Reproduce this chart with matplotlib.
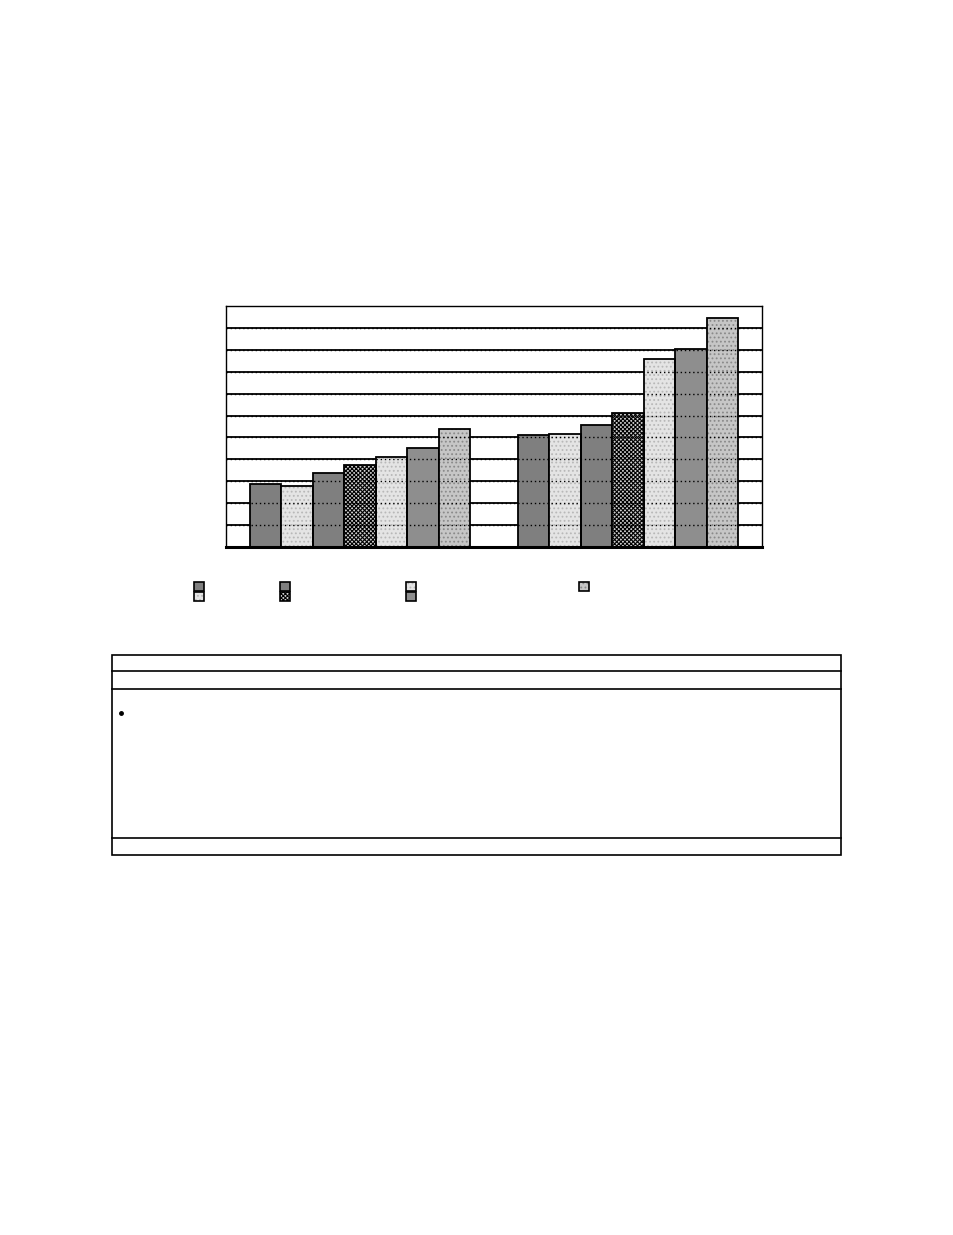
import numpy as np
import matplotlib
matplotlib.use("Agg")
import matplotlib.pyplot as plt
from matplotlib.patches import Rectangle

# two category groups, seven series each (no text in the source)
groups = ["", ""]
series_a = [2.89, 2.80, 3.39, 3.76, 4.13, 4.54, 5.37]
series_b = [5.09, 5.18, 5.55, 6.10, 8.58, 9.04, 10.46]
values = np.array([series_a, series_b])  # shape (2 groups, 7 series)

face = ["#7f7f7f", "#e4e4e4", "#7f7f7f", "#d0d0d0", "#e4e4e4", "#8e8e8e", "#c6c6c6"]
hatch = [None, "....", None, "xxxxxxxx", "....", None, "...."]
hcol = [None, "#b8b8b8", None, "black", "#b8b8b8", None, "#8a8a8a"]

plt.rcParams["hatch.linewidth"] = 0.8

fig = plt.figure(figsize=(9.54, 12.35), dpi=100)
W, H = 954, 1235

ax = fig.add_axes([226 / W, 1 - 547 / H, 536 / W, 241 / H])
n = values.shape[1]
w = 1.0 / (n + 1.5)
centers = np.arange(len(groups)) + 0.5

for gy in range(1, 11):
    ax.axhline(gy, color="black", lw=1.3, zorder=1)
    # grid shows faintly through the patterned bars
    ax.axhline(gy, color="black", lw=1.0, ls=(0, (1, 2)), zorder=2.5)

for i in range(n):
    xs = centers + (i - (n - 1) / 2) * w
    if hatch[i]:
        ax.bar(xs, values[:, i], w, color=face[i], hatch=hatch[i],
               edgecolor=hcol[i], linewidth=0, zorder=2)
        ax.bar(xs, values[:, i], w, fill=False, edgecolor="black", linewidth=1.3, zorder=3)
    else:
        ax.bar(xs, values[:, i], w, color=face[i], edgecolor="black", linewidth=1.3, zorder=2)

ax.set_xlim(0, 2)
ax.set_ylim(0, 11)
ax.set_xticks([])
ax.set_yticks([])
for s in ax.spines.values():
    s.set_linewidth(1.0)
ax.spines["bottom"].set_linewidth(2.2)
ax.spines["bottom"].set_zorder(5)

# overlay in pixel coordinates for legend keys and the empty table
ov = fig.add_axes([0, 0, 1, 1])
ov.set_xlim(0, W)
ov.set_ylim(H, 0)
ov.axis("off")

key_x = [194, 194, 280, 280, 406, 406, 579]
key_y = [582, 592, 582, 592, 582, 592, 582]
for i in range(n):
    if hatch[i]:
        ov.add_patch(Rectangle((key_x[i], key_y[i]), 10, 9, facecolor=face[i],
                               hatch=hatch[i], edgecolor=hcol[i], linewidth=0))
        ov.add_patch(Rectangle((key_x[i], key_y[i]), 10, 9, fill=False,
                               edgecolor="black", linewidth=1.2))
    else:
        ov.add_patch(Rectangle((key_x[i], key_y[i]), 10, 9, facecolor=face[i],
                               edgecolor="black", linewidth=1.2))

ov.add_patch(Rectangle((112, 655), 729, 200, fill=False, edgecolor="black", linewidth=1.2))
for ly in [671, 689, 838]:
    ov.plot([112, 841], [ly, ly], color="black", lw=1.2)
ov.plot([121], [713], "o", color="black", markersize=2.5)

fig.savefig("out.png", dpi=100)
